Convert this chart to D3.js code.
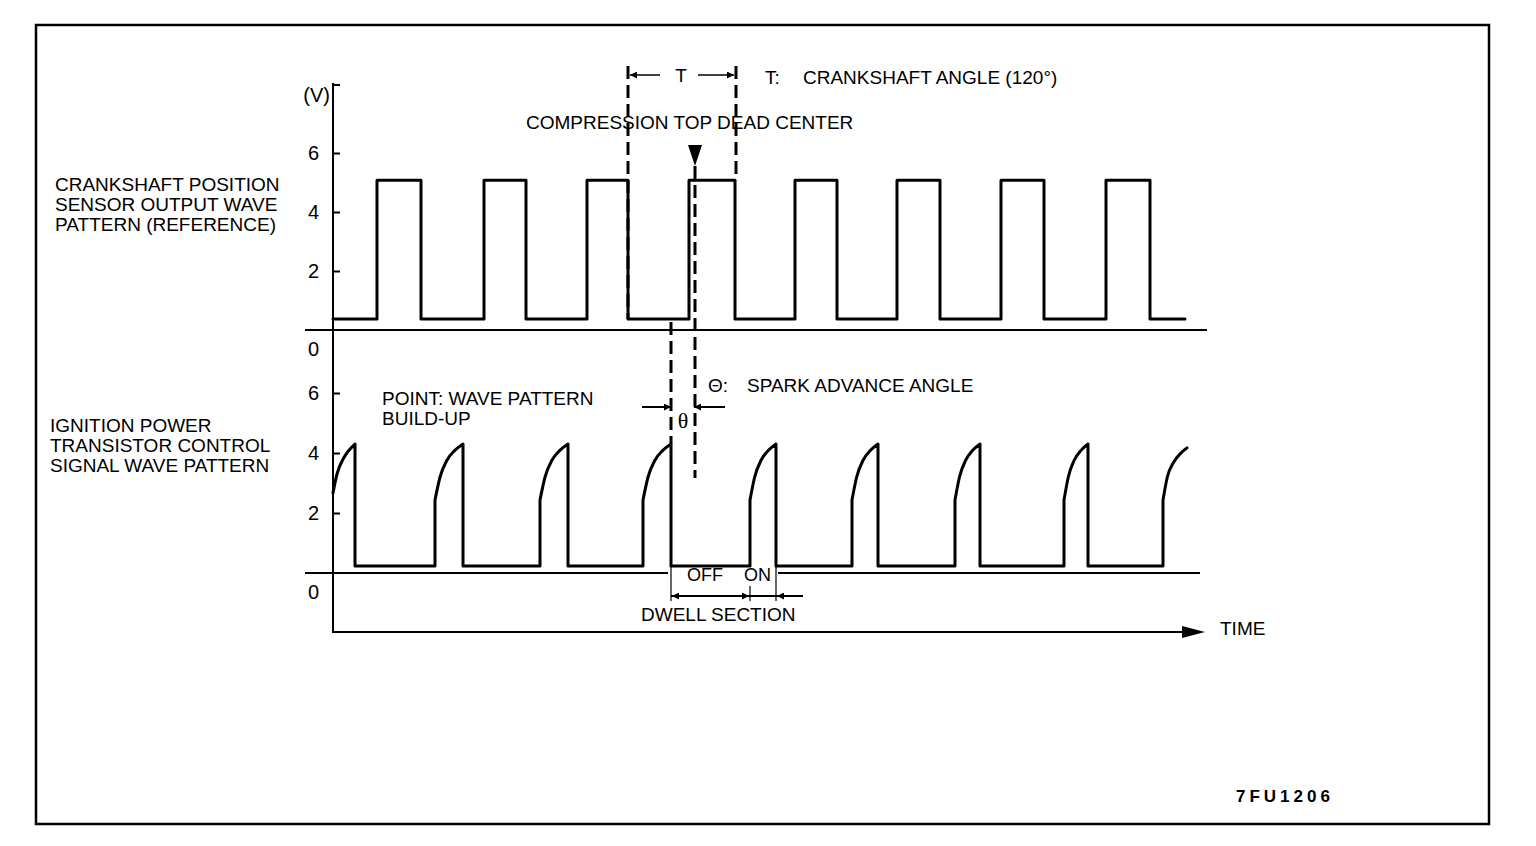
<!DOCTYPE html>
<html>
<head>
<meta charset="utf-8">
<style>
  body { margin: 0; background: #fff; }
  svg text { font-family: "Liberation Sans", Arial, sans-serif; font-size: 19px; fill: #000; }
  .axis path { display: none; }
  .axis line { stroke: #000; stroke-width: 2px; }
  .axis text { font-size: 20px; }
  .wave { fill: none; stroke: #000; stroke-width: 3px; stroke-linejoin: round; stroke-linecap: round; }
  .dash { stroke: #000; stroke-width: 3px; stroke-dasharray: 13 6; }
</style>
</head>
<body>
<div id="chart"></div>
<script src="https://cdnjs.cloudflare.com/ajax/libs/d3/7.8.5/d3.min.js"></script>
<script>
// time axis in arbitrary units (0 = start of the trace)
var tEnd = 870;

// crankshaft position sensor (reference) pulses
var upperRise = [44, 151, 254, 356, 462, 564, 668, 773];
var upperFall = [88, 193, 295, 402, 504, 607, 711, 817];
var upperStop = 852;
var upperLow = 0.37, upperHigh = 5.08;

// ignition power transistor control signal
var firstBuild = [[0, 2.67], [4, 3.3], [11, 3.85], [22, 4.3]];   // trace starts mid build-up
var lowerDrop = [22, 130, 235, 338, 443, 545, 647, 755];
var lowerRise = [102, 207, 310, 417, 519, 622, 731, 830];
var lastBuild = [[0, 2.43], [0.18, 3.2], [0.45, 3.7], [0.75, 4.0], [1, 4.17]];
var lowerStop = 854;
var lowerLow = 0.23, lowerJump = 2.43, lowerPeak = 4.3;
// build-up shape: [fraction of rise time, volts]
var riseShape = [[0, 2.43], [0.18, 3.2], [0.42, 3.75], [0.7, 4.08], [1, 4.3]];

var voltTicks = [2, 4, 6];

// annotation times
var tT0 = 295, tT1 = 403, tTDC = 362, tSpark = 338;

var W = 1536, H = 846;
var svg = d3.select("#chart").append("svg").attr("width", W).attr("height", H);

svg.append("rect").attr("x", 36).attr("y", 25).attr("width", 1453).attr("height", 799)
  .attr("fill", "none").attr("stroke", "#000").attr("stroke-width", 2.5);

var defs = svg.append("defs");
defs.append("marker").attr("id", "ah").attr("viewBox", "0 0 10 10")
  .attr("refX", 10).attr("refY", 5).attr("markerWidth", 10).attr("markerHeight", 7)
  .attr("markerUnits", "userSpaceOnUse").attr("orient", "auto")
  .append("path").attr("d", "M0,0L10,5L0,10Z").attr("fill", "#000");

var x = d3.scaleLinear().domain([0, tEnd]).range([333, 1203]);
var yU = d3.scaleLinear().domain([0, 6]).range([330, 153]);
var yL = d3.scaleLinear().domain([0, 6]).range([573, 393]);

// ---- axes ----
svg.append("line").attr("x1", 333).attr("x2", 333).attr("y1", 83).attr("y2", 633)
  .attr("stroke", "#000").attr("stroke-width", 2);
svg.append("line").attr("x1", 333).attr("x2", 340).attr("y1", 85).attr("y2", 85)
  .attr("stroke", "#000").attr("stroke-width", 2);
svg.append("text").attr("x", 330).attr("y", 102).attr("text-anchor", "end").style("font-size", "20px").text("(V)");

[yU, yL].forEach(function (y) {
  svg.append("g").attr("class", "axis").attr("transform", "translate(333,0)")
    .call(d3.axisRight(y).tickValues(voltTicks).tickSize(7).tickFormat(""));
  svg.append("g").attr("class", "axis").attr("transform", "translate(333,0)")
    .call(d3.axisLeft(y).tickValues(voltTicks).tickSize(0).tickPadding(14).tickFormat(d3.format("d")));
  svg.append("text").attr("x", 319).attr("y", y(0) + 26).attr("text-anchor", "end")
    .style("font-size", "20px").text("0");
});

// zero lines
svg.append("line").attr("x1", 305).attr("x2", 1207).attr("y1", yU(0)).attr("y2", yU(0))
  .attr("stroke", "#000").attr("stroke-width", 2);
svg.append("line").attr("x1", 305).attr("x2", x(lowerDrop[3]) - 3).attr("y1", yL(0)).attr("y2", yL(0))
  .attr("stroke", "#000").attr("stroke-width", 2);
svg.append("line").attr("x1", x(lowerDrop[4]) + 2).attr("x2", 1200).attr("y1", yL(0)).attr("y2", yL(0))
  .attr("stroke", "#000").attr("stroke-width", 2);

// time axis
svg.append("line").attr("x1", 333).attr("x2", 1185).attr("y1", 632).attr("y2", 632)
  .attr("stroke", "#000").attr("stroke-width", 2);
svg.append("path").attr("d", "M1182,626L1205,632L1182,638Z").attr("fill", "#000");
svg.append("text").attr("x", 1220).attr("y", 635).text("TIME");

// ---- upper wave ----
var lin = d3.line().x(function (d) { return x(d[0]); }).y(function (d) { return d[1]; });
var up = [[0, yU(upperLow)]];
upperRise.forEach(function (r, i) {
  up.push([r, yU(upperLow)], [r, yU(upperHigh)], [upperFall[i], yU(upperHigh)], [upperFall[i], yU(upperLow)]);
});
up.push([upperStop, yU(upperLow)]);
svg.append("path").attr("class", "wave").attr("d", lin(up));

// ---- lower wave ----
var curve = d3.line().x(function (d) { return x(d[0]); }).y(function (d) { return yL(d[1]); })
  .curve(d3.curveMonotoneX);
var flat = d3.line().x(function (d) { return x(d[0]); }).y(function (d) { return yL(d[1]); });
function buildUp(t0, t1, shape) {
  return shape.map(function (s) { return [t0 + s[0] * (t1 - t0), s[1]]; });
}
var segs = [curve(firstBuild)];
lowerDrop.forEach(function (dp, i) {
  var r = lowerRise[i];
  var last = i + 1 >= lowerDrop.length;
  var next = last ? lowerStop : lowerDrop[i + 1];
  segs.push(flat([[dp, lowerPeak], [dp, lowerLow], [r, lowerLow], [r, lowerJump]]));
  segs.push(curve(buildUp(r, next, last ? lastBuild : riseShape)));
});
svg.append("path").attr("class", "wave")
  .attr("d", segs.map(function (s, i) { return i ? s.replace(/^M/, "L") : s; }).join(""));

// ---- dashed guides ----
function dash(t, y1, y2) {
  svg.append("line").attr("class", "dash").attr("x1", x(t)).attr("x2", x(t)).attr("y1", y1).attr("y2", y2);
}
dash(tT0, 66, yU(upperLow));
dash(tT1, 66, yU(upperHigh));
dash(tTDC, 166, 478);
dash(tSpark, 322, yL(lowerPeak));

// T span arrows
svg.append("line").attr("x1", x(tT0) + 32).attr("x2", x(tT0) + 2).attr("y1", 75).attr("y2", 75)
  .attr("stroke", "#000").attr("stroke-width", 1.5).attr("marker-end", "url(#ah)");
svg.append("line").attr("x1", x(tT1) - 38).attr("x2", x(tT1) - 2).attr("y1", 75).attr("y2", 75)
  .attr("stroke", "#000").attr("stroke-width", 1.5).attr("marker-end", "url(#ah)");
svg.append("text").attr("x", (x(tT0) + x(tT1)) / 2 - 1).attr("y", 82).attr("text-anchor", "middle").text("T");
svg.append("text").attr("x", 765).attr("y", 84).text("T:");
svg.append("text").attr("x", 803).attr("y", 84).text("CRANKSHAFT ANGLE (120\u00B0)");

// TDC marker
svg.append("text").attr("x", 526).attr("y", 129).text("COMPRESSION TOP DEAD CENTER");
var xt = x(tTDC);
svg.append("path").attr("d", "M" + (xt - 7) + ",145L" + (xt + 7) + ",145L" + xt + ",166Z").attr("fill", "#000");

// spark advance angle
svg.append("line").attr("x1", 642).attr("x2", x(tSpark)).attr("y1", 407).attr("y2", 407)
  .attr("stroke", "#000").attr("stroke-width", 2).attr("marker-end", "url(#ah)");
svg.append("line").attr("x1", 725).attr("x2", x(tTDC) - 1).attr("y1", 407).attr("y2", 407)
  .attr("stroke", "#000").attr("stroke-width", 2).attr("marker-end", "url(#ah)");
svg.append("text").attr("x", (x(tSpark) + x(tTDC)) / 2).attr("y", 428).attr("text-anchor", "middle")
  .style("font-family", "'Liberation Serif', serif").style("font-size", "22px").text("\u03B8");
svg.append("text").attr("x", 708).attr("y", 392).text("\u0398:");
svg.append("text").attr("x", 747).attr("y", 392).text("SPARK ADVANCE ANGLE");

// dwell section
var xd0 = x(lowerDrop[3]), xon = x(lowerRise[3]), xd1 = x(lowerDrop[4]);
[[xd0, 566, 601], [xd1, 566, 601], [xon, 586, 601]].forEach(function (v) {
  svg.append("line").attr("x1", v[0]).attr("x2", v[0]).attr("y1", v[1]).attr("y2", v[2])
    .attr("stroke", "#000").attr("stroke-width", 1.2);
});
svg.append("line").attr("x1", xd0).attr("x2", 803).attr("y1", 596).attr("y2", 596)
  .attr("stroke", "#000").attr("stroke-width", 2);
svg.append("line").attr("x1", xd0 + 12).attr("x2", xd0 + 1).attr("y1", 596).attr("y2", 596)
  .attr("stroke", "#000").attr("stroke-width", 2).attr("marker-end", "url(#ah)");
svg.append("line").attr("x1", xon - 12).attr("x2", xon - 1).attr("y1", 596).attr("y2", 596)
  .attr("stroke", "#000").attr("stroke-width", 2).attr("marker-end", "url(#ah)");
svg.append("line").attr("x1", xd1 + 12).attr("x2", xd1 + 1).attr("y1", 596).attr("y2", 596)
  .attr("stroke", "#000").attr("stroke-width", 2).attr("marker-end", "url(#ah)");
svg.append("text").attr("x", 687).attr("y", 581).style("font-size", "18px").text("OFF");
svg.append("text").attr("x", 744).attr("y", 581).style("font-size", "18px").text("ON");
svg.append("text").attr("x", 641).attr("y", 621).text("DWELL SECTION");

// side labels
[["CRANKSHAFT POSITION", 55, 191], ["SENSOR OUTPUT WAVE", 55, 211], ["PATTERN (REFERENCE)", 55, 231],
 ["IGNITION POWER", 50, 432], ["TRANSISTOR CONTROL", 50, 452], ["SIGNAL WAVE PATTERN", 50, 472],
 ["POINT: WAVE PATTERN", 382, 405], ["BUILD-UP", 382, 425]].forEach(function (l) {
  svg.append("text").attr("x", l[1]).attr("y", l[2]).text(l[0]);
});

svg.append("text").attr("x", 1236).attr("y", 802).style("font-size", "17px").style("font-weight", "bold")
  .style("letter-spacing", "4px").text("7FU1206");
</script>
</body>
</html>
